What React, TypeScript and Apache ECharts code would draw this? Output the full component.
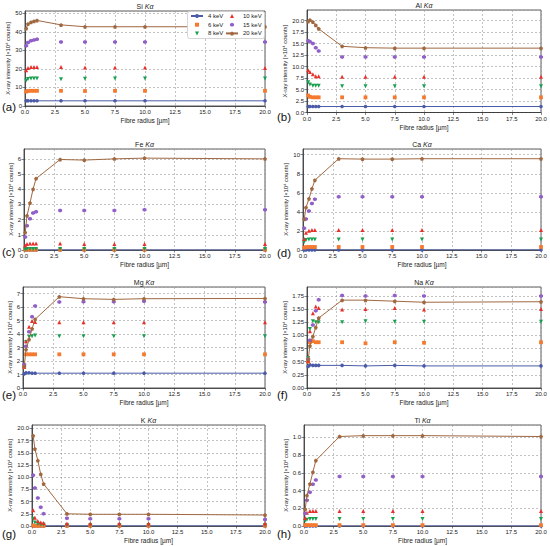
import React, { useEffect, useRef } from "react";
import * as echarts from "echarts";

// Fibre radius values (µm)
const X = [0.1, 0.25, 0.5, 0.75, 1, 3, 5, 7.5, 10, 20];
const ENERGIES = ["4 keV", "6 keV", "8 keV", "10 keV", "15 keV", "20 keV"];
const ELEMENTS = ["Si", "Al", "Fe", "Ca", "Mg", "Na", "K", "Ti"];
const TAGS = ["(a)", "(b)", "(c)", "(d)", "(e)", "(f)", "(g)", "(h)"];
const Y_MAX = [51.3, 22.3, 6.65, 10.6, 7.5, 1.92, 20.7, 1.14];
const Y_STEP = [10, 2.5, 1, 2, 1, 0.25, 2.5, 0.2];
const Y_DEC = [0, 1, 0, 0, 0, 2, 1, 1];

// rows: 4, 6, 8, 10, 15, 20 keV  (×10⁴ counts)
const SI = [
  [2.8, 2.8, 2.8, 2.8, 2.8, 2.8, 2.8, 2.8, 2.8, 2.8],
  [7.8, 8.1, 8.2, 8.2, 8.2, 8.2, 8.1, 8.2, 8.2, 8.2],
  [13.8, 14.6, 14.8, 14.8, 14.8, 14.5, 14.7, 14.8, 14.8, 14.8],
  [19.3, 20.5, 21, 21, 21, 21, 20.8, 20.8, 20.8, 20.5],
  [32.5, 34.3, 35.2, 35.7, 36, 34.5, 34.5, 34.5, 34.5, 34.5],
  [41.8, 44.3, 45.2, 45.8, 46.2, 43.8, 42.8, 42.8, 42.8, 42.8],
];
const AL = [
  [1.3, 1.3, 1.3, 1.3, 1.3, 1.3, 1.3, 1.3, 1.3, 1.3],
  [3.7, 3.4, 3.3, 3.3, 3.3, 3.3, 3.3, 3.3, 3.3, 3.3],
  [6.6, 6.1, 5.8, 5.8, 5.8, 5.7, 5.7, 5.7, 5.7, 5.7],
  [9.2, 8.8, 8.3, 7.9, 7.9, 7.8, 7.8, 7.8, 7.8, 7.8],
  [15.6, 15.4, 15.0, 14.1, 13.4, 12.1, 12.1, 12.1, 12.1, 12.1],
  [19.8, 20.1, 19.7, 19.0, 18.2, 14.4, 14.1, 14.0, 14.0, 14.0],
];
const FE = [
  [0, 0, 0, 0, 0, 0, 0, 0, 0, 0],
  [0.02, 0.02, 0.02, 0.02, 0.02, 0.02, 0.02, 0.02, 0.02, 0.02],
  [0.05, 0.06, 0.06, 0.06, 0.06, 0.06, 0.06, 0.06, 0.06, 0.06],
  [0.3, 0.4, 0.42, 0.42, 0.42, 0.42, 0.4, 0.4, 0.4, 0.4],
  [0.85, 1.6, 2.05, 2.43, 2.52, 2.6, 2.6, 2.6, 2.65, 2.65],
  [1.15, 2.25, 3.1, 4.0, 4.7, 5.96, 5.92, 6.0, 6.05, 6.0],
];
const CA = [
  [0.01, 0.01, 0.01, 0.01, 0.01, 0.01, 0.01, 0.01, 0.01, 0.01],
  [0.25, 0.3, 0.32, 0.32, 0.32, 0.32, 0.32, 0.32, 0.32, 0.32],
  [0.85, 1.05, 1.1, 1.1, 1.1, 1.1, 1.1, 1.1, 1.1, 1.1],
  [1.16, 1.82, 2.03, 2.1, 2.1, 2.1, 2.1, 2.1, 2.1, 2.1],
  [2.28, 3.26, 4.1, 4.88, 5.33, 5.6, 5.6, 5.6, 5.6, 5.6],
  [3.23, 4.45, 5.37, 6.42, 7.33, 9.58, 9.54, 9.54, 9.58, 9.58],
];
const MG = [
  [1.05, 1.12, 1.13, 1.1, 1.1, 1.1, 1.1, 1.1, 1.1, 1.1],
  [1.55, 2.5, 2.5, 2.5, 2.5, 2.5, 2.5, 2.5, 2.5, 2.5],
  [1.6, 3.4, 3.8, 3.85, 3.9, 3.85, 3.85, 3.85, 3.85, 3.85],
  [1.6, 3.47, 4.55, 4.97, 4.9, 4.88, 4.88, 4.88, 4.88, 4.88],
  [1.75, 3.1, 4.17, 5.3, 6.08, 6.38, 6.4, 6.4, 6.45, 6.38],
  [1.6, 2.85, 3.6, 4.4, 5.1, 6.78, 6.63, 6.58, 6.63, 6.65],
];
const NA = [
  [0.41, 0.44, 0.43, 0.43, 0.43, 0.43, 0.42, 0.43, 0.42, 0.42],
  [0.5, 0.87, 0.89, 0.87, 0.87, 0.87, 0.85, 0.87, 0.86, 0.87],
  [0.57, 1.12, 1.27, 1.25, 1.25, 1.25, 1.27, 1.26, 1.26, 1.26],
  [0.52, 1.08, 1.42, 1.55, 1.52, 1.49, 1.5, 1.52, 1.49, 1.5],
  [0.55, 0.91, 1.2, 1.47, 1.68, 1.76, 1.75, 1.76, 1.75, 1.75],
  [0.545, 0.8, 0.98, 1.15, 1.33, 1.67, 1.67, 1.65, 1.63, 1.64],
];
const K = [
  [0.02, 0.02, 0.02, 0.02, 0.02, 0.02, 0.02, 0.02, 0.02, 0.02],
  [0.1, 0.06, 0.05, 0.05, 0.05, 0.05, 0.05, 0.05, 0.05, 0.05],
  [1.5, 0.7, 0.4, 0.3, 0.25, 0.2, 0.2, 0.2, 0.2, 0.2],
  [3.25, 1.7, 1.0, 0.7, 0.6, 0.5, 0.5, 0.5, 0.5, 0.5],
  [10.4, 7.8, 5.75, 3.85, 2.5, 1.6, 1.5, 1.5, 1.5, 1.35],
  [18.5, 15.8, 13.4, 10.6, 8.6, 2.5, 2.4, 2.4, 2.4, 2.25],
];
const TI = [
  [0, 0, 0, 0, 0, 0, 0, 0, 0, 0],
  [0.01, 0.01, 0.01, 0.01, 0.01, 0.01, 0.01, 0.01, 0.01, 0.01],
  [0.06, 0.07, 0.08, 0.08, 0.08, 0.08, 0.08, 0.08, 0.08, 0.08],
  [0.09, 0.15, 0.17, 0.17, 0.17, 0.17, 0.17, 0.17, 0.17, 0.17],
  [0.14, 0.29, 0.38, 0.47, 0.52, 0.56, 0.56, 0.56, 0.56, 0.56],
  [0.19, 0.345, 0.475, 0.607, 0.74, 1.01, 1.02, 1.02, 1.02, 1.01],
];
const DATA = [SI, AL, FE, CA, MG, NA, K, TI];

// layout: [left, top, width, height], y-name gap, tag position
const GRIDS = [
  [25, 11, 240, 95],
  [307, 10, 234, 102.5],
  [24, 149, 241, 101],
  [303, 149, 238, 101],
  [23, 287, 242, 101],
  [307, 287, 234, 101],
  [32, 425, 233, 101],
  [304, 425, 237, 101],
];
const NAME_GAP = [9, 14, 9, 7, 10, 12, 16, 11];
const TAG_POS = [
  [2, 107], [277, 117], [2, 252], [277, 253],
  [2, 395], [277, 395], [2, 534], [277, 534],
];

const COLORS = ["#4b5ba8", "#f47a30", "#18a050", "#e8302a", "#9060c8", "#a06840"];
const SYMBOLS = [
  "circle",
  "rect",
  "path://M0,0 L10,0 L5,8.66 Z",
  "triangle",
  "path://M5,0 L9.33,2.5 L9.33,7.5 L5,10 L0.67,7.5 L0.67,2.5 Z",
  "path://M5,0 L9.76,3.45 L7.94,9.05 L2.06,9.05 L0.24,3.45 Z",
];
const SIZES = [3.6, 3.8, 4, 4, 4, 4];
const FONT = "Liberation Sans";

export default function App() {
  const ref = useRef<HTMLDivElement>(null);
  useEffect(() => {
    if (!ref.current) return;
    const chart = echarts.init(ref.current, null, { renderer: "svg" });
    const grid: any[] = [];
    const xAxis: any[] = [];
    const yAxis: any[] = [];
    const series: any[] = [];
    const graphic: any[] = [];
    DATA.forEach((rows, p) => {
      const [l, t, w, h] = GRIDS[p];
      grid.push({
        left: l, top: t, width: w, height: h,
        show: true, borderColor: "#333", borderWidth: 0.8, backgroundColor: "transparent",
      });
      xAxis.push({
        type: "value", gridIndex: p, min: 0, max: 20, interval: 2.5,
        name: "Fibre radius [µm]", nameLocation: "middle", nameGap: 11,
        nameTextStyle: { fontSize: 6.5, fontFamily: FONT, color: "#222" },
        axisLine: { show: true, lineStyle: { color: "#333", width: 0.8 } },
        axisTick: { show: true, length: 2.5, lineStyle: { color: "#333", width: 0.6 } },
        axisLabel: { fontSize: 6, fontFamily: FONT, color: "#222", margin: 3, formatter: (v: number) => v.toFixed(1) },
        splitLine: { show: true, lineStyle: { color: "#999", width: 0.6, type: [2, 2] } },
      });
      const dec = Y_DEC[p];
      yAxis.push({
        type: "value", gridIndex: p, min: 0, max: Y_MAX[p], interval: Y_STEP[p],
        name: "X-ray intensity [×10⁴ counts]", nameLocation: "middle", nameGap: NAME_GAP[p],
        nameTextStyle: { fontSize: 5.8, fontFamily: FONT, color: "#222" },
        axisLine: { show: true, lineStyle: { color: "#333", width: 0.8 } },
        axisTick: { show: true, length: 2.5, lineStyle: { color: "#333", width: 0.6 } },
        axisLabel: {
          fontSize: 6, fontFamily: FONT, color: "#222", margin: 3, showMaxLabel: false,
          formatter: (v: number) => v.toFixed(dec),
        },
        splitLine: { show: true, lineStyle: { color: "#999", width: 0.6, type: [2, 2] } },
      });
      rows.forEach((vals, s) => {
        const hasLine = s === 0 || s === 5;
        series.push({
          name: ENERGIES[s],
          type: "line",
          xAxisIndex: p, yAxisIndex: p,
          data: X.map((x, i) => [x, vals[i]]),
          symbol: SYMBOLS[s],
          symbolSize: SIZES[s],
          showSymbol: true,
          showAllSymbol: true,
          itemStyle: { color: COLORS[s], opacity: 1 },
          lineStyle: hasLine
            ? { color: COLORS[s], width: 1 }
            : { color: COLORS[s], width: 0, opacity: 0 },
          z: 2 + s,
        });
      });
      const cx = l + w / 2;
      graphic.push({
        type: "text",
        x: cx, y: t - 5,
        style: {
          text: "{n|" + ELEMENTS[p] + " }{i|Kα}",
          align: "center", verticalAlign: "middle",
          rich: {
            n: { fontSize: 7, fontFamily: FONT, fill: "#222" },
            i: { fontSize: 7, fontFamily: FONT, fontStyle: "italic", fill: "#222" },
          },
        },
      });
      graphic.push({
        type: "text",
        x: TAG_POS[p][0], y: TAG_POS[p][1],
        style: {
          text: TAGS[p], fontSize: 11.5, fontFamily: FONT, fill: "#111",
          align: "left", verticalAlign: "middle",
        },
      });
    });
    // legend frame in panel (a)
    graphic.push({
      type: "rect",
      z: 100,
      shape: { x: 187.5, y: 11.5, width: 77, height: 27, r: 2 },
      style: { fill: "#fff", stroke: "#ccc", lineWidth: 0.8 },
    });
    const legendBase = {
      orient: "vertical",
      top: 12.5,
      padding: 0,
      itemGap: 1.7,
      itemWidth: 12, itemHeight: 5,
      itemTextGap: 2,
      z: 200,
      backgroundColor: "transparent",
      textStyle: { fontSize: 6, fontFamily: FONT, color: "#222", lineHeight: 7 },
      selectedMode: false,
    };
    chart.setOption({
      animation: false,
      backgroundColor: "#fff",
      grid, xAxis, yAxis, series, graphic,
      legend: [
        { ...legendBase, left: 190, data: ["4 keV", "6 keV", "8 keV"] },
        { ...legendBase, left: 225, data: ["10 keV", "15 keV", "20 keV"] },
      ],
    });
    return () => chart.dispose();
  }, []);
  return (
    <div
      ref={ref}
      style={{ position: "absolute", left: 0, top: 0, width: 550, height: 546, background: "#fff" }}
    />
  );
}
